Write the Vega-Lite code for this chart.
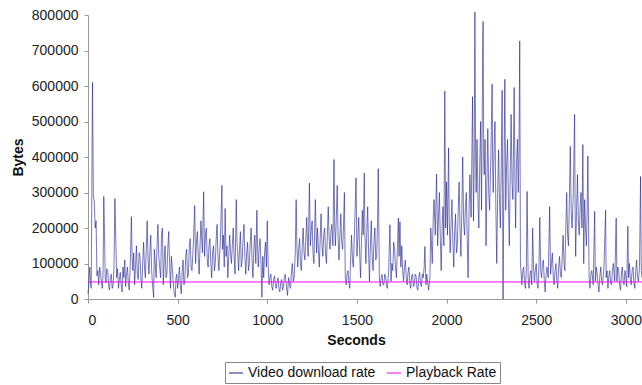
{
  "$schema": "https://vega.github.io/schema/vega-lite/v6.json",
  "width": 554,
  "height": 284,
  "autosize": "none",
  "padding": {"left": 88, "top": 15, "right": 0, "bottom": 86},
  "background": "white",
  "config": {"view": {"stroke": null}, "font": "Liberation Sans"},
  "encoding": {
    "x": {"field": "sec", "type": "quantitative",
      "scale": {"domain": [0, 3090], "nice": false, "zero": false},
      "axis": {"title": "Seconds", "values": [0,500,1000,1500,2000,2500,3000], "format": "d", "grid": false, "labelOverlap": false,
        "domainColor": "#999999", "tickColor": "#999999", "tickSize": 4, "labelFontSize": 14, "labelColor": "#222222", "labelPadding": 10,
        "titleFontSize": 14, "titleFontWeight": "bold", "titleColor": "#111111", "titlePadding": 6, "titleX": 268}},
    "y": {"field": "bytes", "type": "quantitative",
      "scale": {"domain": [0, 800000], "nice": false, "zero": true},
      "axis": {"title": "Bytes", "values": [0,100000,200000,300000,400000,500000,600000,700000,800000], "tickCount": 9, "format": "d", "grid": false, "labelOverlap": false,
        "domainColor": "#999999", "tickColor": "#999999", "tickSize": 4, "labelFontSize": 14, "labelColor": "#222222", "labelPadding": 6,
        "titleFontSize": 14, "titleFontWeight": "bold", "titleColor": "#111111", "titlePadding": 6}}
  },
  "layer": [
    {
      "data": {"values": [
{"sec":0,"bytes":15000},{"sec":5,"bytes":50000},{"sec":10,"bytes":90000},{"sec":14,"bytes":40000},{"sec":18,"bytes":30000},{"sec":25,"bytes":610000},{"sec":30,"bytes":290000},{"sec":35,"bytes":275000},{"sec":40,"bytes":200000},{"sec":45,"bytes":220000},{"sec":50,"bytes":65000},{"sec":55,"bytes":80000},{"sec":60,"bytes":40000},{"sec":65,"bytes":90000},{"sec":70,"bytes":75000},{"sec":75,"bytes":45000},{"sec":80,"bytes":30000},{"sec":84,"bytes":70000},{"sec":88,"bytes":289000},{"sec":92,"bytes":190000},{"sec":96,"bytes":60000},{"sec":100,"bytes":45000},{"sec":105,"bytes":85000},{"sec":110,"bytes":80000},{"sec":115,"bytes":35000},{"sec":120,"bytes":25000},{"sec":125,"bytes":60000},{"sec":130,"bytes":70000},{"sec":135,"bytes":30000},{"sec":140,"bytes":40000},{"sec":145,"bytes":90000},{"sec":150,"bytes":283000},{"sec":155,"bytes":170000},{"sec":160,"bytes":60000},{"sec":165,"bytes":85000},{"sec":170,"bytes":30000},{"sec":175,"bytes":55000},{"sec":180,"bytes":75000},{"sec":185,"bytes":40000},{"sec":190,"bytes":20000},{"sec":195,"bytes":90000},{"sec":200,"bytes":60000},{"sec":205,"bytes":110000},{"sec":210,"bytes":35000},{"sec":215,"bytes":70000},{"sec":220,"bytes":90000},{"sec":225,"bytes":45000},{"sec":230,"bytes":25000},{"sec":236,"bytes":100000},{"sec":242,"bytes":232000},{"sec":246,"bytes":120000},{"sec":250,"bytes":80000},{"sec":255,"bytes":130000},{"sec":260,"bytes":40000},{"sec":265,"bytes":90000},{"sec":270,"bytes":150000},{"sec":275,"bytes":70000},{"sec":280,"bytes":55000},{"sec":285,"bytes":130000},{"sec":290,"bytes":120000},{"sec":295,"bytes":60000},{"sec":300,"bytes":30000},{"sec":305,"bytes":100000},{"sec":310,"bytes":160000},{"sec":315,"bytes":90000},{"sec":320,"bytes":60000},{"sec":325,"bytes":140000},{"sec":330,"bytes":220000},{"sec":335,"bytes":110000},{"sec":340,"bytes":70000},{"sec":345,"bytes":130000},{"sec":350,"bytes":180000},{"sec":355,"bytes":80000},{"sec":360,"bytes":40000},{"sec":366,"bytes":5000},{"sec":370,"bytes":140000},{"sec":375,"bytes":100000},{"sec":380,"bytes":60000},{"sec":385,"bytes":150000},{"sec":390,"bytes":210000},{"sec":395,"bytes":120000},{"sec":400,"bytes":90000},{"sec":405,"bytes":60000},{"sec":410,"bytes":180000},{"sec":415,"bytes":200000},{"sec":420,"bytes":40000},{"sec":425,"bytes":110000},{"sec":430,"bytes":150000},{"sec":435,"bytes":60000},{"sec":440,"bytes":70000},{"sec":445,"bytes":140000},{"sec":450,"bytes":190000},{"sec":455,"bytes":100000},{"sec":460,"bytes":30000},{"sec":465,"bytes":120000},{"sec":470,"bytes":90000},{"sec":475,"bytes":50000},{"sec":480,"bytes":20000},{"sec":487,"bytes":5000},{"sec":491,"bytes":60000},{"sec":495,"bytes":70000},{"sec":500,"bytes":30000},{"sec":505,"bytes":55000},{"sec":510,"bytes":90000},{"sec":515,"bytes":40000},{"sec":520,"bytes":15000},{"sec":525,"bytes":75000},{"sec":530,"bytes":110000},{"sec":535,"bytes":40000},{"sec":540,"bytes":50000},{"sec":545,"bytes":120000},{"sec":550,"bytes":140000},{"sec":555,"bytes":60000},{"sec":560,"bytes":70000},{"sec":565,"bytes":150000},{"sec":570,"bytes":170000},{"sec":575,"bytes":90000},{"sec":580,"bytes":80000},{"sec":588,"bytes":160000},{"sec":595,"bytes":263000},{"sec":600,"bytes":100000},{"sec":605,"bytes":160000},{"sec":610,"bytes":190000},{"sec":615,"bytes":120000},{"sec":620,"bytes":70000},{"sec":625,"bytes":150000},{"sec":630,"bytes":220000},{"sec":638,"bytes":130000},{"sec":645,"bytes":302000},{"sec":650,"bytes":120000},{"sec":655,"bytes":180000},{"sec":660,"bytes":200000},{"sec":665,"bytes":110000},{"sec":670,"bytes":90000},{"sec":675,"bytes":150000},{"sec":680,"bytes":170000},{"sec":685,"bytes":100000},{"sec":690,"bytes":60000},{"sec":695,"bytes":130000},{"sec":700,"bytes":150000},{"sec":705,"bytes":80000},{"sec":710,"bytes":100000},{"sec":715,"bytes":170000},{"sec":720,"bytes":210000},{"sec":725,"bytes":120000},{"sec":730,"bytes":80000},{"sec":738,"bytes":160000},{"sec":747,"bytes":320000},{"sec":750,"bytes":140000},{"sec":755,"bytes":180000},{"sec":760,"bytes":90000},{"sec":765,"bytes":255000},{"sec":770,"bytes":120000},{"sec":775,"bytes":150000},{"sec":780,"bytes":60000},{"sec":785,"bytes":120000},{"sec":790,"bytes":180000},{"sec":795,"bytes":130000},{"sec":800,"bytes":100000},{"sec":805,"bytes":150000},{"sec":810,"bytes":200000},{"sec":815,"bytes":120000},{"sec":820,"bytes":70000},{"sec":827,"bytes":280000},{"sec":831,"bytes":160000},{"sec":835,"bytes":130000},{"sec":840,"bytes":80000},{"sec":845,"bytes":140000},{"sec":850,"bytes":190000},{"sec":855,"bytes":90000},{"sec":860,"bytes":110000},{"sec":865,"bytes":170000},{"sec":870,"bytes":210000},{"sec":875,"bytes":120000},{"sec":880,"bytes":70000},{"sec":885,"bytes":130000},{"sec":890,"bytes":160000},{"sec":895,"bytes":80000},{"sec":900,"bytes":100000},{"sec":905,"bytes":160000},{"sec":910,"bytes":200000},{"sec":915,"bytes":110000},{"sec":920,"bytes":60000},{"sec":925,"bytes":140000},{"sec":930,"bytes":180000},{"sec":936,"bytes":100000},{"sec":942,"bytes":250000},{"sec":946,"bytes":140000},{"sec":950,"bytes":90000},{"sec":955,"bytes":150000},{"sec":960,"bytes":170000},{"sec":965,"bytes":100000},{"sec":970,"bytes":5000},{"sec":975,"bytes":120000},{"sec":980,"bytes":60000},{"sec":985,"bytes":130000},{"sec":990,"bytes":160000},{"sec":995,"bytes":90000},{"sec":1000,"bytes":220000},{"sec":1005,"bytes":90000},{"sec":1010,"bytes":40000},{"sec":1015,"bytes":60000},{"sec":1020,"bytes":70000},{"sec":1025,"bytes":35000},{"sec":1030,"bytes":25000},{"sec":1035,"bytes":55000},{"sec":1040,"bytes":65000},{"sec":1045,"bytes":40000},{"sec":1050,"bytes":30000},{"sec":1055,"bytes":50000},{"sec":1060,"bytes":60000},{"sec":1065,"bytes":30000},{"sec":1070,"bytes":20000},{"sec":1075,"bytes":45000},{"sec":1080,"bytes":55000},{"sec":1085,"bytes":25000},{"sec":1090,"bytes":35000},{"sec":1095,"bytes":60000},{"sec":1100,"bytes":70000},{"sec":1106,"bytes":40000},{"sec":1113,"bytes":10000},{"sec":1117,"bytes":50000},{"sec":1120,"bytes":60000},{"sec":1125,"bytes":35000},{"sec":1130,"bytes":30000},{"sec":1135,"bytes":80000},{"sec":1140,"bytes":100000},{"sec":1145,"bytes":50000},{"sec":1150,"bytes":60000},{"sec":1156,"bytes":130000},{"sec":1161,"bytes":280000},{"sec":1165,"bytes":150000},{"sec":1170,"bytes":90000},{"sec":1175,"bytes":140000},{"sec":1180,"bytes":170000},{"sec":1185,"bytes":100000},{"sec":1190,"bytes":80000},{"sec":1195,"bytes":150000},{"sec":1200,"bytes":200000},{"sec":1205,"bytes":130000},{"sec":1210,"bytes":110000},{"sec":1215,"bytes":170000},{"sec":1220,"bytes":230000},{"sec":1224,"bytes":160000},{"sec":1228,"bytes":120000},{"sec":1235,"bytes":327000},{"sec":1240,"bytes":150000},{"sec":1245,"bytes":190000},{"sec":1250,"bytes":220000},{"sec":1255,"bytes":130000},{"sec":1260,"bytes":100000},{"sec":1268,"bytes":280000},{"sec":1275,"bytes":130000},{"sec":1280,"bytes":200000},{"sec":1285,"bytes":140000},{"sec":1290,"bytes":90000},{"sec":1295,"bytes":170000},{"sec":1300,"bytes":240000},{"sec":1305,"bytes":150000},{"sec":1310,"bytes":120000},{"sec":1315,"bytes":180000},{"sec":1320,"bytes":200000},{"sec":1325,"bytes":130000},{"sec":1330,"bytes":100000},{"sec":1335,"bytes":180000},{"sec":1340,"bytes":260000},{"sec":1345,"bytes":170000},{"sec":1350,"bytes":140000},{"sec":1355,"bytes":190000},{"sec":1360,"bytes":210000},{"sec":1366,"bytes":150000},{"sec":1372,"bytes":393000},{"sec":1376,"bytes":200000},{"sec":1380,"bytes":150000},{"sec":1385,"bytes":230000},{"sec":1390,"bytes":320000},{"sec":1395,"bytes":170000},{"sec":1400,"bytes":110000},{"sec":1405,"bytes":180000},{"sec":1410,"bytes":240000},{"sec":1415,"bytes":160000},{"sec":1420,"bytes":140000},{"sec":1425,"bytes":200000},{"sec":1430,"bytes":300000},{"sec":1435,"bytes":60000},{"sec":1440,"bytes":40000},{"sec":1445,"bytes":70000},{"sec":1450,"bytes":80000},{"sec":1455,"bytes":45000},{"sec":1460,"bytes":30000},{"sec":1465,"bytes":120000},{"sec":1470,"bytes":180000},{"sec":1475,"bytes":110000},{"sec":1480,"bytes":90000},{"sec":1487,"bytes":200000},{"sec":1495,"bytes":341000},{"sec":1500,"bytes":120000},{"sec":1505,"bytes":170000},{"sec":1510,"bytes":230000},{"sec":1515,"bytes":130000},{"sec":1520,"bytes":60000},{"sec":1525,"bytes":160000},{"sec":1530,"bytes":250000},{"sec":1535,"bytes":180000},{"sec":1541,"bytes":355000},{"sec":1545,"bytes":170000},{"sec":1550,"bytes":100000},{"sec":1555,"bytes":190000},{"sec":1560,"bytes":260000},{"sec":1565,"bytes":130000},{"sec":1570,"bytes":50000},{"sec":1575,"bytes":150000},{"sec":1580,"bytes":220000},{"sec":1585,"bytes":120000},{"sec":1590,"bytes":80000},{"sec":1595,"bytes":160000},{"sec":1600,"bytes":200000},{"sec":1605,"bytes":110000},{"sec":1610,"bytes":120000},{"sec":1615,"bytes":220000},{"sec":1619,"bytes":367000},{"sec":1625,"bytes":60000},{"sec":1630,"bytes":35000},{"sec":1635,"bytes":60000},{"sec":1640,"bytes":70000},{"sec":1645,"bytes":40000},{"sec":1650,"bytes":40000},{"sec":1655,"bytes":70000},{"sec":1660,"bytes":65000},{"sec":1665,"bytes":35000},{"sec":1670,"bytes":30000},{"sec":1677,"bytes":80000},{"sec":1684,"bytes":209000},{"sec":1690,"bytes":50000},{"sec":1695,"bytes":100000},{"sec":1700,"bytes":80000},{"sec":1705,"bytes":160000},{"sec":1710,"bytes":140000},{"sec":1715,"bytes":90000},{"sec":1720,"bytes":60000},{"sec":1725,"bytes":130000},{"sec":1731,"bytes":228000},{"sec":1735,"bytes":120000},{"sec":1740,"bytes":218000},{"sec":1745,"bytes":90000},{"sec":1750,"bytes":150000},{"sec":1755,"bytes":80000},{"sec":1760,"bytes":50000},{"sec":1765,"bytes":90000},{"sec":1770,"bytes":110000},{"sec":1775,"bytes":60000},{"sec":1780,"bytes":40000},{"sec":1785,"bytes":75000},{"sec":1790,"bytes":90000},{"sec":1795,"bytes":45000},{"sec":1800,"bytes":30000},{"sec":1805,"bytes":65000},{"sec":1810,"bytes":70000},{"sec":1815,"bytes":35000},{"sec":1820,"bytes":40000},{"sec":1825,"bytes":70000},{"sec":1830,"bytes":65000},{"sec":1835,"bytes":30000},{"sec":1840,"bytes":25000},{"sec":1845,"bytes":60000},{"sec":1850,"bytes":75000},{"sec":1855,"bytes":40000},{"sec":1860,"bytes":35000},{"sec":1865,"bytes":70000},{"sec":1870,"bytes":60000},{"sec":1875,"bytes":90000},{"sec":1879,"bytes":148000},{"sec":1885,"bytes":40000},{"sec":1890,"bytes":70000},{"sec":1895,"bytes":45000},{"sec":1900,"bytes":25000},{"sec":1907,"bytes":60000},{"sec":1912,"bytes":200000},{"sec":1916,"bytes":150000},{"sec":1920,"bytes":100000},{"sec":1925,"bytes":220000},{"sec":1930,"bytes":280000},{"sec":1937,"bytes":180000},{"sec":1944,"bytes":352000},{"sec":1950,"bytes":150000},{"sec":1955,"bytes":230000},{"sec":1960,"bytes":300000},{"sec":1965,"bytes":170000},{"sec":1970,"bytes":80000},{"sec":1975,"bytes":200000},{"sec":1980,"bytes":260000},{"sec":1985,"bytes":150000},{"sec":1990,"bytes":586000},{"sec":1995,"bytes":200000},{"sec":2000,"bytes":330000},{"sec":2005,"bytes":180000},{"sec":2011,"bytes":426000},{"sec":2015,"bytes":220000},{"sec":2020,"bytes":130000},{"sec":2025,"bytes":210000},{"sec":2030,"bytes":280000},{"sec":2035,"bytes":160000},{"sec":2040,"bytes":90000},{"sec":2045,"bytes":190000},{"sec":2050,"bytes":240000},{"sec":2055,"bytes":130000},{"sec":2060,"bytes":150000},{"sec":2065,"bytes":250000},{"sec":2070,"bytes":330000},{"sec":2075,"bytes":200000},{"sec":2080,"bytes":120000},{"sec":2085,"bytes":250000},{"sec":2090,"bytes":400000},{"sec":2095,"bytes":220000},{"sec":2100,"bytes":180000},{"sec":2105,"bytes":260000},{"sec":2110,"bytes":300000},{"sec":2115,"bytes":170000},{"sec":2120,"bytes":60000},{"sec":2125,"bytes":240000},{"sec":2130,"bytes":350000},{"sec":2137,"bytes":230000},{"sec":2145,"bytes":570000},{"sec":2150,"bytes":220000},{"sec":2154,"bytes":380000},{"sec":2158,"bytes":808000},{"sec":2162,"bytes":400000},{"sec":2165,"bytes":300000},{"sec":2170,"bytes":450000},{"sec":2175,"bytes":280000},{"sec":2180,"bytes":200000},{"sec":2185,"bytes":380000},{"sec":2190,"bytes":500000},{"sec":2195,"bytes":250000},{"sec":2202,"bytes":741000},{"sec":2204,"bytes":782000},{"sec":2207,"bytes":400000},{"sec":2210,"bytes":350000},{"sec":2215,"bytes":450000},{"sec":2220,"bytes":150000},{"sec":2225,"bytes":330000},{"sec":2230,"bytes":480000},{"sec":2235,"bytes":300000},{"sec":2240,"bytes":250000},{"sec":2247,"bytes":400000},{"sec":2254,"bytes":605000},{"sec":2257,"bytes":380000},{"sec":2260,"bytes":300000},{"sec":2265,"bytes":420000},{"sec":2270,"bytes":500000},{"sec":2275,"bytes":250000},{"sec":2280,"bytes":100000},{"sec":2285,"bytes":300000},{"sec":2290,"bytes":420000},{"sec":2295,"bytes":280000},{"sec":2300,"bytes":200000},{"sec":2305,"bytes":380000},{"sec":2310,"bytes":588000},{"sec":2315,"bytes":0},{"sec":2320,"bytes":350000},{"sec":2325,"bytes":619000},{"sec":2330,"bytes":250000},{"sec":2335,"bytes":380000},{"sec":2340,"bytes":450000},{"sec":2345,"bytes":280000},{"sec":2350,"bytes":150000},{"sec":2355,"bytes":350000},{"sec":2360,"bytes":520000},{"sec":2365,"bytes":330000},{"sec":2370,"bytes":280000},{"sec":2377,"bytes":596000},{"sec":2381,"bytes":350000},{"sec":2385,"bytes":200000},{"sec":2390,"bytes":380000},{"sec":2395,"bytes":450000},{"sec":2400,"bytes":300000},{"sec":2404,"bytes":420000},{"sec":2408,"bytes":727000},{"sec":2412,"bytes":100000},{"sec":2416,"bytes":70000},{"sec":2420,"bytes":40000},{"sec":2425,"bytes":80000},{"sec":2430,"bytes":90000},{"sec":2435,"bytes":45000},{"sec":2440,"bytes":30000},{"sec":2445,"bytes":90000},{"sec":2449,"bytes":303000},{"sec":2455,"bytes":60000},{"sec":2460,"bytes":30000},{"sec":2465,"bytes":70000},{"sec":2470,"bytes":80000},{"sec":2475,"bytes":40000},{"sec":2480,"bytes":200000},{"sec":2485,"bytes":90000},{"sec":2490,"bytes":50000},{"sec":2495,"bytes":80000},{"sec":2500,"bytes":100000},{"sec":2505,"bytes":45000},{"sec":2510,"bytes":30000},{"sec":2515,"bytes":90000},{"sec":2520,"bytes":230000},{"sec":2525,"bytes":80000},{"sec":2530,"bytes":60000},{"sec":2535,"bytes":100000},{"sec":2540,"bytes":110000},{"sec":2545,"bytes":50000},{"sec":2550,"bytes":20000},{"sec":2555,"bytes":70000},{"sec":2560,"bytes":90000},{"sec":2567,"bytes":60000},{"sec":2575,"bytes":260000},{"sec":2580,"bytes":70000},{"sec":2585,"bytes":100000},{"sec":2590,"bytes":130000},{"sec":2595,"bytes":60000},{"sec":2600,"bytes":40000},{"sec":2605,"bytes":80000},{"sec":2610,"bytes":100000},{"sec":2615,"bytes":50000},{"sec":2620,"bytes":30000},{"sec":2625,"bytes":90000},{"sec":2630,"bytes":120000},{"sec":2635,"bytes":70000},{"sec":2640,"bytes":60000},{"sec":2645,"bytes":120000},{"sec":2650,"bytes":180000},{"sec":2655,"bytes":100000},{"sec":2660,"bytes":80000},{"sec":2665,"bytes":200000},{"sec":2670,"bytes":300000},{"sec":2675,"bytes":180000},{"sec":2680,"bytes":150000},{"sec":2685,"bytes":280000},{"sec":2690,"bytes":430000},{"sec":2695,"bytes":250000},{"sec":2700,"bytes":200000},{"sec":2707,"bytes":300000},{"sec":2714,"bytes":520000},{"sec":2717,"bytes":250000},{"sec":2720,"bytes":120000},{"sec":2725,"bytes":250000},{"sec":2730,"bytes":350000},{"sec":2735,"bytes":220000},{"sec":2740,"bytes":180000},{"sec":2745,"bytes":260000},{"sec":2750,"bytes":300000},{"sec":2755,"bytes":200000},{"sec":2760,"bytes":435000},{"sec":2765,"bytes":100000},{"sec":2770,"bytes":280000},{"sec":2775,"bytes":200000},{"sec":2780,"bytes":150000},{"sec":2784,"bytes":250000},{"sec":2788,"bytes":403000},{"sec":2795,"bytes":60000},{"sec":2800,"bytes":30000},{"sec":2805,"bytes":70000},{"sec":2810,"bytes":80000},{"sec":2818,"bytes":40000},{"sec":2826,"bytes":247000},{"sec":2830,"bytes":50000},{"sec":2835,"bytes":90000},{"sec":2840,"bytes":70000},{"sec":2845,"bytes":40000},{"sec":2850,"bytes":20000},{"sec":2855,"bytes":65000},{"sec":2860,"bytes":90000},{"sec":2865,"bytes":50000},{"sec":2870,"bytes":40000},{"sec":2878,"bytes":90000},{"sec":2887,"bytes":250000},{"sec":2890,"bytes":60000},{"sec":2895,"bytes":80000},{"sec":2900,"bytes":30000},{"sec":2905,"bytes":65000},{"sec":2910,"bytes":80000},{"sec":2915,"bytes":45000},{"sec":2920,"bytes":40000},{"sec":2925,"bytes":80000},{"sec":2930,"bytes":100000},{"sec":2938,"bytes":50000},{"sec":2946,"bytes":228000},{"sec":2950,"bytes":50000},{"sec":2955,"bytes":90000},{"sec":2960,"bytes":80000},{"sec":2965,"bytes":40000},{"sec":2970,"bytes":25000},{"sec":2975,"bytes":70000},{"sec":2980,"bytes":90000},{"sec":2985,"bytes":50000},{"sec":2990,"bytes":40000},{"sec":2995,"bytes":80000},{"sec":3000,"bytes":60000},{"sec":3005,"bytes":35000},{"sec":3011,"bytes":205000},{"sec":3015,"bytes":60000},{"sec":3020,"bytes":100000},{"sec":3025,"bytes":55000},{"sec":3030,"bytes":40000},{"sec":3035,"bytes":80000},{"sec":3040,"bytes":90000},{"sec":3045,"bytes":45000},{"sec":3050,"bytes":30000},{"sec":3055,"bytes":80000},{"sec":3060,"bytes":110000},{"sec":3065,"bytes":60000},{"sec":3070,"bytes":50000},{"sec":3076,"bytes":90000},{"sec":3082,"bytes":345000},{"sec":3086,"bytes":80000},{"sec":3090,"bytes":60000}
      ]},
      "mark": {"type": "line", "strokeWidth": 0.6, "clip": false},
      "encoding": {
        "color": {"datum": "Video download rate", "type": "nominal",
          "scale": {"domain": ["Video download rate", "Playback Rate"], "range": ["#1e1e8c", "#ff00ff"]},
          "legend": {"title": null, "orient": "none", "legendX": 137, "legendY": 347, "direction": "horizontal",
            "strokeColor": "#888888", "padding": 3, "symbolType": "stroke", "symbolSize": 200, "symbolStrokeWidth": 1,
            "labelFontSize": 14, "labelColor": "#111111", "columnPadding": 8}}
      }
    },
    {
      "data": {"values": [{"sec": 0, "bytes": 48000}, {"sec": 3090, "bytes": 48000}]},
      "mark": {"type": "line", "strokeWidth": 1},
      "encoding": {
        "color": {"datum": "Playback Rate", "type": "nominal"}
      }
    }
  ]
}
